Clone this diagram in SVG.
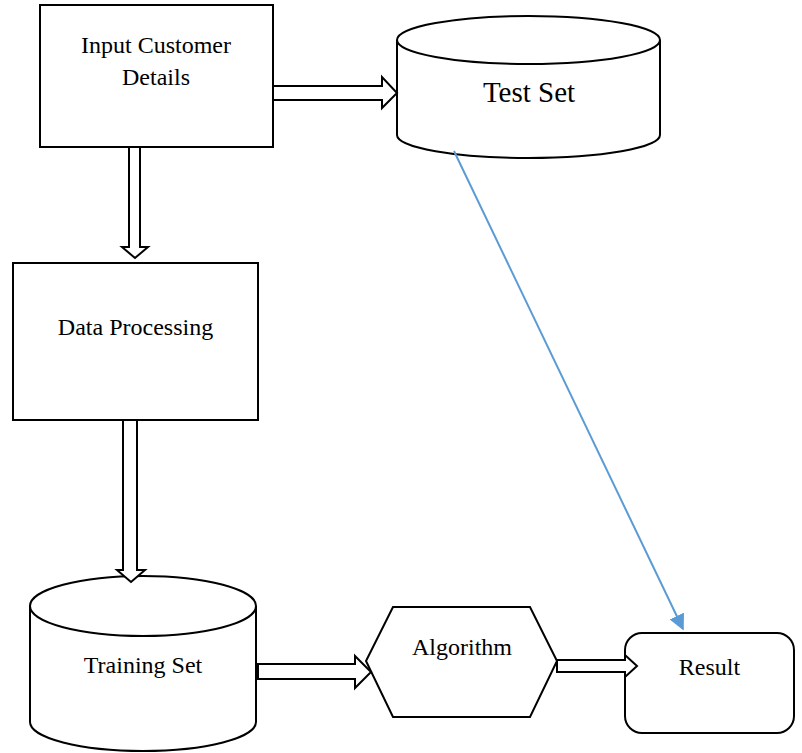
<svg xmlns="http://www.w3.org/2000/svg" width="802" height="753" viewBox="0 0 802 753">
<defs>
<style>
.shape{fill:#fff;stroke:#000;stroke-width:2}
.blk{fill:#fff;stroke:#000;stroke-width:2;stroke-linejoin:miter}
.lbl{font-family:"Liberation Serif","Times New Roman",serif;font-size:24px;fill:#000;text-anchor:middle}
.big{font-size:29px}
.blue{stroke:#5B9BD5;stroke-width:2;fill:none}
</style>
<marker id="bh" viewBox="0 0 10 10" refX="9" refY="5" markerWidth="16" markerHeight="16" markerUnits="userSpaceOnUse" orient="auto">
<path d="M0,0 L10,5 L0,10 z" fill="#5B9BD5"/>
</marker>
</defs>
<rect width="802" height="753" fill="#fff"/>
<g id="input">
<rect class="shape" x="40" y="5" width="233" height="142"/>
<text class="lbl" x="156" y="53">Input Customer</text>
<text class="lbl" x="156" y="85">Details</text>
</g>
<g id="testset">
<path class="shape" d="M397,40 L397,135 A131.5,23 0 0 0 660,135 L660,40"/>
<ellipse class="shape" cx="528.5" cy="40" rx="131.5" ry="24"/>
<text class="lbl big" x="529" y="102">Test Set</text>
</g>
<g id="dataproc">
<rect class="shape" x="13" y="263" width="245" height="157"/>
<text class="lbl" x="135.5" y="335">Data Processing</text>
</g>
<g id="trainset">
<path class="shape" d="M30,606 L30,722 A113,29 0 0 0 256,722 L256,606"/>
<ellipse class="shape" cx="143" cy="606" rx="113" ry="30"/>
<text class="lbl" x="143" y="673">Training Set</text>
</g>
<g id="algorithm">
<polygon class="shape" points="393,607 530,607 557,661 530,717 393,717 366,661"/>
<text class="lbl" x="462" y="655">Algorithm</text>
</g>
<g id="result">
<rect class="shape" x="625" y="633" width="169" height="100" rx="17" ry="17"/>
<text class="lbl" x="709.5" y="675">Result</text>
</g>
<g id="connectors">
<polygon class="blk" points="273,86 382,86 382,77 397,93 382,108 382,100 273,100"/>
<polygon class="blk" points="129,147 140,147 140,247 148,247 135,258 122,247 129,247"/>
<polygon class="blk" points="123,420 137,420 137,570 145,570 131,582 117,570 123,570"/>
<polygon class="blk" points="258,664 355,664 355,656 371,672 355,688 355,679 258,679"/>
<polygon class="blk" points="557,660 625,660 625,655 637,666 625,677 625,672 557,672"/>
<line class="blue" x1="454" y1="151" x2="683" y2="629" marker-end="url(#bh)"/>
</g>
</svg>
